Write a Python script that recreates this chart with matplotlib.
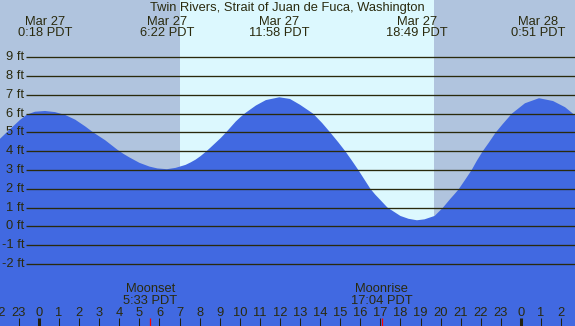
import matplotlib
matplotlib.use("Agg")
import matplotlib.pyplot as plt

# ---------------- data ----------------
title = "Twin Rivers, Strait of Juan de Fuca, Washington"

# tide heights (ft), time in hours since Mar 27 00:00
times = [-2.0, -1.44, -0.95, -0.6, -0.2, 0.3, 0.8, 1.3, 1.8, 2.3, 2.7, 3.3, 3.6, 3.9,
         4.2, 4.5, 5.0, 5.5, 5.9, 6.37, 6.8, 7.3, 7.55, 7.8, 8.05, 8.3, 8.55, 8.8,
         9.05, 9.3, 9.55, 9.8, 10.05, 10.3, 10.8, 11.3, 11.97, 12.5, 13.0, 13.65,
         14.1, 14.5, 14.9, 15.25, 15.6, 15.9, 16.2, 16.5, 16.75, 17.0, 17.35, 18.0,
         18.4, 18.82, 19.2, 19.7, 20.1, 20.5, 20.7, 20.9, 21.25, 21.55, 21.8, 22.1,
         22.4, 22.75, 23.1, 23.55, 24.2, 24.9, 25.6, 26.2, 26.59, 26.8]
heights = [4.60, 5.17, 5.66, 5.95, 6.10, 6.14, 6.08, 5.93, 5.68, 5.32, 5.00, 4.58,
           4.33, 4.08, 3.86, 3.67, 3.38, 3.18, 3.08, 3.04, 3.11, 3.27, 3.40, 3.55,
           3.74, 3.96, 4.20, 4.45, 4.70, 4.98, 5.28, 5.58, 5.83, 6.05, 6.43, 6.72,
           6.87, 6.78, 6.47, 6.00, 5.50, 5.00, 4.48, 4.00, 3.47, 3.00, 2.50, 2.00,
           1.68, 1.40, 1.00, 0.55, 0.40, 0.32, 0.37, 0.55, 0.97, 1.48, 1.72, 1.97,
           2.52, 3.00, 3.48, 4.00, 4.45, 5.00, 5.45, 6.00, 6.55, 6.82, 6.67, 6.34,
           6.00, 5.80]

# high / low tide events
event_times = [0.30, 6.367, 11.967, 18.817, 24.85]
event_dates = ["Mar 27", "Mar 27", "Mar 27", "Mar 27", "Mar 28"]
event_labels = ["0:18 PDT", "6:22 PDT", "11:58 PDT", "18:49 PDT", "0:51 PDT"]

# moon events
moon_times = [5.55, 17.067]
moon_names = ["Moonset", "Moonrise"]
moon_labels = ["5:33 PDT", "17:04 PDT"]

# daylight
sunrise = 7.02
sunset = 19.65

ft_levels = list(range(-2, 10))
hours = list(range(-2, 27))

# ---------------- style ----------------
W, H = 575, 326
X0, X1 = -1.942, 26.693
Y0, Y1 = -5.31, 12.05
txt = "#2a2a0e"
line_c = "#2a2a0c"
plt.rcParams["font.family"] = ["Liberation Sans", "DejaVu Sans"]
fs = 9.25


def px_x(p):
    return X0 + p / W * (X1 - X0)


def px_y(p):
    return Y1 - p / H * (Y1 - Y0)


fig = plt.figure(figsize=(W / 100, H / 100), dpi=100)
ax = fig.add_axes([0, 0, 1, 1])
ax.set_xlim(X0, X1)
ax.set_ylim(Y0, Y1)
ax.axis("off")
ax.add_patch(plt.Rectangle((X0, Y0), X1 - X0, Y1 - Y0, color="#B0C4DE", lw=0, zorder=0))
ax.axvspan(sunrise, sunset, color="#DCF8FE", lw=0, zorder=1)
ax.fill_between(times, heights, Y0 - 1, color="#4169E1", lw=0, zorder=2)

ax.hlines(ft_levels, px_x(26), X1 + 1, color=line_c, lw=0.95, zorder=3)
for f in ft_levels:
    ax.text(px_x(24.5), f, f"{f} ft", ha="right", va="center", fontsize=fs, color=txt, zorder=4)

# title and event labels
ax.text(px_x(287.5), px_y(11.5), title, ha="center", va="baseline", fontsize=fs, color=txt)
for t, d, l in zip(event_times, event_dates, event_labels):
    ax.text(t, px_y(25), d, ha="center", va="baseline", fontsize=fs, color=txt)
    ax.text(t, px_y(36), l, ha="center", va="baseline", fontsize=fs, color=txt)

# bottom hour axis
for h in hours:
    ax.text(h, px_y(316), str(h % 24), ha="center", va="baseline", fontsize=fs, color=txt)
    lw = 2.2 if h % 24 == 0 else 0.75
    ax.vlines(h, Y0 - 1, px_y(318), color="#222210", lw=lw, zorder=3)

for t, n, l in zip(moon_times, moon_names, moon_labels):
    ax.vlines(t, Y0 - 1, px_y(318), color="#ff0000", lw=0.9, zorder=3)
    ax.text(t, px_y(291.5), n, ha="center", va="baseline", fontsize=fs, color=txt)
    ax.text(t, px_y(303.5), l, ha="center", va="baseline", fontsize=fs, color=txt)

fig.savefig("out.png", dpi=100)
